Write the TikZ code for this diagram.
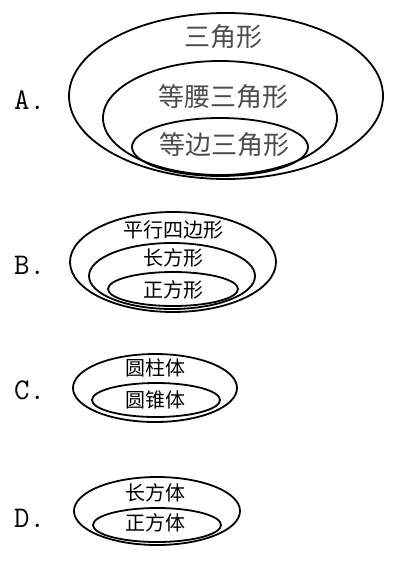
\documentclass[tikz,border=0pt]{standalone}
\usepackage{fontspec}
\newfontfamily\cjk{Noto Sans CJK SC}
\usetikzlibrary{shapes, positioning}
\newcommand{\setring}[5]
{
	\node[ring, minimum width=#4pt, minimum height=#5pt] at (#2, #3) (#1){}
}

\begin{document}
\begin{tikzpicture}[x=1pt, y=-1pt,
	ring/.style={shape=ellipse, draw=black, line width=1.8pt, inner sep=0pt},
	big/.style={font=\cjk\fontsize{26}{26}\selectfont, text=black!70, inner sep=0pt},
	small/.style={font=\cjk\fontsize{20}{20}\selectfont, inner sep=0pt},
	letter/.style={font=\ttfamily\fontsize{30}{30}\selectfont, anchor=west, inner sep=0pt}]
	\useasboundingbox (0,0) rectangle (408,562);

	% A
	\node[letter] at (14, 100) (LA){A.};
	\setring{A1}{226}{96}{314}{166};
	\setring{A2}{220}{118}{234}{114};
	\setring{A3}{220}{147}{176}{58};
	\node[big] at (223, 37) (TA1){三角形};
	\node[big] at (223, 97) (TA2){等腰三角形};
	\node[big] at (224, 145) (TA3){等边三角形};

	% B
	\node[letter] at (14, 265) (LB){B.};
	\setring{B1}{173}{262}{206}{100};
	\setring{B2}{172}{276}{166}{66};
	\setring{B3}{173}{289}{130}{34};
	\node[small] at (173, 230) (TB1){平行四边形};
	\node[small] at (173, 258) (TB2){长方形};
	\node[small] at (173, 290) (TB3){正方形};

	% C
	\node[letter] at (14, 390) (LC){C.};
	\setring{C1}{155}{388}{164}{68};
	\setring{C2}{156}{400}{128}{34};
	\node[small] at (155, 368) (TC1){圆柱体};
	\node[small] at (155, 400) (TC2){圆锥体};

	% D
	\node[letter] at (14, 518) (LD){D.};
	\setring{D1}{157}{511}{166}{68};
	\setring{D2}{157}{525}{128}{34};
	\node[small] at (155, 493) (TD1){长方体};
	\node[small] at (155, 523) (TD2){正方体};
\end{tikzpicture}
\end{document}
